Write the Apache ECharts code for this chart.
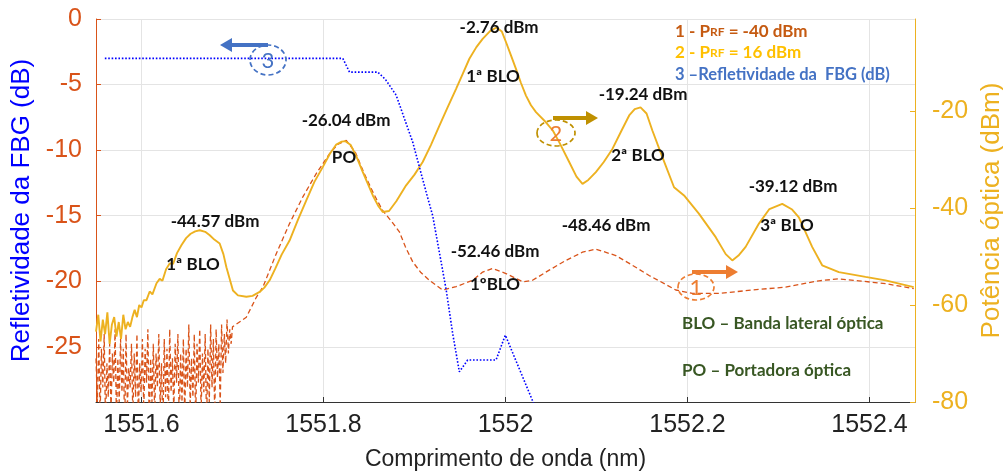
<!DOCTYPE html>
<html>
<head>
<meta charset="utf-8">
<script src="https://cdn.jsdelivr.net/npm/echarts@6/dist/echarts.min.js"></script>
<style>
  html, body { margin: 0; padding: 0; background: #fff; }
  #chart { width: 1003px; height: 472px; }
</style>
</head>
<body>
<div id="chart"></div>
<script>
// Wavelength ticks (nm)
const xTicks = [1551.6, 1551.8, 1552.0, 1552.2, 1552.4];
const leftTicks = [0, -5, -10, -15, -20, -25];
const rightTicks = [-80, -60, -40, -20];

// FBG reflectivity (dB), left axis
const fbgReflectivity = [
  [1551.5597, -3.0], [1551.8212, -3.0], [1551.8286, -4.05], [1551.8596, -4.05],
  [1551.8680, -4.6], [1551.8798, -5.8], [1551.8981, -9.4], [1551.9128, -13.2],
  [1551.9200, -15.0], [1551.9347, -20.6], [1551.9420, -24.0], [1551.9493, -26.9],
  [1551.9584, -26.0], [1551.9896, -26.0], [1551.9998, -24.1], [1552.0297, -29.1],
  [1552.0400, -31.0]
];

// P_RF = -40 dBm : noise floor at short wavelengths (dBm)
const lowRfNoise = [
  [1551.5500, -71], [1551.5515, -80], [1551.5530, -67], [1551.5545, -83], [1551.5560, -69],
  [1551.5575, -77], [1551.5590, -66], [1551.5605, -85], [1551.5620, -72], [1551.5635, -79],
  [1551.5650, -68], [1551.5665, -82], [1551.5680, -70], [1551.5695, -76], [1551.5710, -65],
  [1551.5725, -84], [1551.5740, -71], [1551.5755, -80], [1551.5770, -67], [1551.5785, -78],
  [1551.5800, -69], [1551.5815, -86], [1551.5830, -66], [1551.5845, -81], [1551.5860, -73],
  [1551.5875, -77], [1551.5890, -68], [1551.5905, -83], [1551.5920, -70], [1551.5935, -79],
  [1551.5950, -66], [1551.5965, -84], [1551.5980, -72], [1551.5995, -78], [1551.6010, -67],
  [1551.6025, -82], [1551.6040, -69], [1551.6055, -76], [1551.6070, -65], [1551.6085, -85],
  [1551.6100, -71], [1551.6115, -80], [1551.6130, -68], [1551.6145, -83], [1551.6160, -70],
  [1551.6175, -77], [1551.6190, -66], [1551.6205, -81], [1551.6220, -72], [1551.6235, -86],
  [1551.6250, -67], [1551.6265, -79], [1551.6280, -69], [1551.6295, -84], [1551.6310, -65],
  [1551.6325, -78], [1551.6340, -71], [1551.6355, -82], [1551.6370, -68], [1551.6385, -76],
  [1551.6400, -66], [1551.6415, -85], [1551.6430, -70], [1551.6445, -80], [1551.6460, -67],
  [1551.6475, -83], [1551.6490, -69], [1551.6505, -77], [1551.6520, -64], [1551.6535, -81],
  [1551.6550, -71], [1551.6565, -79], [1551.6580, -66], [1551.6595, -84], [1551.6610, -68],
  [1551.6625, -76], [1551.6640, -65], [1551.6655, -82], [1551.6670, -70], [1551.6685, -78],
  [1551.6700, -66], [1551.6715, -85], [1551.6730, -69], [1551.6745, -80], [1551.6760, -64],
  [1551.6775, -77], [1551.6790, -67], [1551.6805, -83], [1551.6820, -65], [1551.6835, -75],
  [1551.6850, -68], [1551.6865, -81], [1551.6880, -64], [1551.6895, -74], [1551.6910, -66],
  [1551.6925, -72], [1551.6940, -63], [1551.6955, -70], [1551.6970, -65], [1551.6985, -68],
  [1551.7000, -64.5]
];

// P_RF = -40 dBm : carrier and sidebands (dBm)
const lowRfSpectrum = [
  [1551.7152, -62.5], [1551.7262, -58.4], [1551.7334, -56.3], [1551.7481, -49.4],
  [1551.7627, -43.2], [1551.7773, -37.7], [1551.7920, -32.9], [1551.8066, -28.8],
  [1551.8160, -26.8], [1551.8250, -26.04], [1551.8350, -28.5], [1551.8450, -33.0],
  [1551.8550, -37.0], [1551.8650, -40.5], [1551.8750, -42.8], [1551.8834, -44.9],
  [1551.8900, -48.0], [1551.8981, -51.1], [1551.9070, -53.3], [1551.9164, -54.9],
  [1551.9310, -56.9], [1551.9457, -56.2], [1551.9639, -54.9], [1551.9749, -53.2],
  [1551.9858, -52.46], [1552.0005, -53.5], [1552.0188, -55.2], [1552.0297, -54.9],
  [1552.0480, -52.8], [1552.0664, -50.8], [1552.0846, -49.1], [1552.0993, -48.46],
  [1552.1213, -49.8], [1552.1395, -51.8], [1552.1578, -53.9], [1552.1688, -55.0],
  [1552.1871, -56.9], [1552.2053, -57.6], [1552.2346, -57.6], [1552.2712, -56.9],
  [1552.3078, -56.3], [1552.3444, -55.0], [1552.3663, -54.6], [1552.3883, -55.0],
  [1552.4176, -55.6], [1552.4486, -56.6]
];

// P_RF = 16 dBm : noise floor at short wavelengths (dBm)
const highRfNoise = [
  [1551.5500, -65.5], [1551.5525, -62.0], [1551.5550, -67.5], [1551.5575, -63.0],
  [1551.5600, -66.0], [1551.5625, -61.5], [1551.5650, -68.0], [1551.5675, -64.0],
  [1551.5700, -62.5], [1551.5725, -66.5], [1551.5750, -63.5], [1551.5775, -67.0],
  [1551.5800, -62.0], [1551.5825, -65.0], [1551.5850, -63.5], [1551.5875, -64.5],
  [1551.5900, -62.5], [1551.5925, -61.0], [1551.5950, -62.5], [1551.5975, -60.0],
  [1551.6000, -60.5], [1551.6025, -59.0]
];

// P_RF = 16 dBm : carrier and sidebands (dBm)
const highRfSpectrum = [
  [1551.6055, -59.0], [1551.6090, -57.2], [1551.6120, -57.8], [1551.6165, -55.5],
  [1551.6200, -54.6], [1551.6230, -55.0], [1551.6270, -52.6], [1551.6311, -51.4],
  [1551.6347, -51.5], [1551.6390, -49.3], [1551.6440, -47.6], [1551.6490, -46.2],
  [1551.6540, -45.3], [1551.6590, -44.8], [1551.6640, -44.57], [1551.6700, -44.9],
  [1551.6750, -45.6], [1551.6800, -46.5], [1551.6859, -47.3], [1551.6900, -49.5],
  [1551.6933, -52.2], [1551.7005, -57.0], [1551.7060, -58.0], [1551.7152, -58.3],
  [1551.7220, -58.1], [1551.7298, -57.3], [1551.7350, -56.4], [1551.7408, -54.9],
  [1551.7470, -52.5], [1551.7540, -49.6], [1551.7627, -46.7], [1551.7720, -42.4],
  [1551.7811, -38.4], [1551.7900, -34.6], [1551.7993, -31.5], [1551.8070, -28.8],
  [1551.8140, -26.9], [1551.8200, -26.3], [1551.8240, -26.2], [1551.8300, -27.0],
  [1551.8360, -29.3], [1551.8432, -32.6], [1551.8542, -37.4], [1551.8600, -39.5],
  [1551.8651, -40.8], [1551.8720, -40.6], [1551.8800, -38.6], [1551.8908, -35.3],
  [1551.9000, -33.1], [1551.9090, -30.5], [1551.9180, -27.0], [1551.9274, -23.0],
  [1551.9360, -19.4], [1551.9457, -15.4], [1551.9530, -12.3], [1551.9603, -9.2],
  [1551.9680, -6.8], [1551.9749, -5.1], [1551.9830, -3.5], [1551.9900, -2.76],
  [1551.9960, -3.6], [1552.0006, -5.8], [1552.0060, -8.5], [1552.0115, -11.3],
  [1552.0170, -14.2], [1552.0225, -16.8], [1552.0280, -18.8], [1552.0335, -20.2],
  [1552.0444, -22.3], [1552.0520, -24.0], [1552.0590, -26.4], [1552.0700, -30.5],
  [1552.0780, -33.5], [1552.0846, -35.0], [1552.0910, -34.2], [1552.0993, -32.6],
  [1552.1080, -30.5], [1552.1175, -27.8], [1552.1270, -24.2], [1552.1359, -20.9],
  [1552.1420, -19.6], [1552.1484, -19.24], [1552.1550, -20.5], [1552.1614, -24.0],
  [1552.1724, -29.5], [1552.1852, -35.7], [1552.1962, -37.4], [1552.2127, -41.2],
  [1552.2310, -46.0], [1552.2420, -49.5], [1552.2492, -50.8], [1552.2560, -49.8],
  [1552.2639, -48.0], [1552.2785, -43.2], [1552.2900, -40.2], [1552.3041, -39.12],
  [1552.3150, -40.3], [1552.3224, -41.9], [1552.3370, -48.0], [1552.3480, -51.8],
  [1552.3663, -53.2], [1552.3956, -54.2], [1552.4176, -54.9], [1552.4486, -56.3]
];

// Peak readouts and band labels
const peakNotes = [
  { text: '-2.76 dBm', x: 499, y: 28 },
  { text: '1ª BLO', x: 493, y: 77 },
  { text: '-26.04 dBm', x: 346, y: 121 },
  { text: 'PO', x: 344, y: 158 },
  { text: '-19.24 dBm', x: 643, y: 95 },
  { text: '2ª BLO', x: 638, y: 156 },
  { text: '-39.12 dBm', x: 793, y: 187 },
  { text: '3ª BLO', x: 787, y: 226 },
  { text: '-44.57 dBm', x: 215, y: 222 },
  { text: '1ª BLO', x: 193, y: 265 },
  { text: '-52.46 dBm', x: 495, y: 252 },
  { text: '1ºBLO', x: 495, y: 285 },
  { text: '-48.46 dBm', x: 606, y: 226 }
];

const C_LOW = '#D95319';
const C_HIGH = '#EDB120';
const C_FBG = '#0000FF';
const ANN_FONT = 'Lato, "Open Sans", sans-serif';
const AXIS_FONT = '"Liberation Sans", Arial, sans-serif';

const chart = echarts.init(document.getElementById('chart'));

const graphics = [];
peakNotes.forEach(n => graphics.push({
  type: 'text', x: n.x, y: n.y, z: 100,
  style: { text: n.text, fill: '#111', font: 'bold 17px ' + ANN_FONT, align: 'center', verticalAlign: 'middle' }
}));

// Glossary
[['BLO – Banda lateral óptica', 324], ['PO – Portadora óptica', 371]].forEach(([t, y]) => graphics.push({
  type: 'text', x: 682, y: y, z: 100,
  style: { text: t, fill: '#385723', font: 'bold 17px ' + ANN_FONT, align: 'left', verticalAlign: 'middle' }
}));

// Trace key
graphics.push({
  type: 'text', x: 675, y: 32, z: 100,
  style: {
    text: '{a|1 - P}{s|RF}{a| = -40 dBm}', align: 'left', verticalAlign: 'middle',
    rich: { a: { fill: '#C55A11', font: 'bold 17px ' + ANN_FONT }, s: { fill: '#C55A11', font: 'bold 12px ' + ANN_FONT } }
  }
});
graphics.push({
  type: 'text', x: 675, y: 53, z: 100,
  style: {
    text: '{a|2 - P}{s|RF}{a| = 16 dBm}', align: 'left', verticalAlign: 'middle',
    rich: { a: { fill: '#FFC000', font: 'bold 17px ' + ANN_FONT }, s: { fill: '#FFC000', font: 'bold 12px ' + ANN_FONT } }
  }
});
graphics.push({
  type: 'text', x: 675, y: 75, z: 100,
  style: { text: '3 –Refletividade da  FBG (dB)', fill: '#4472C4', font: 'bold 16.5px ' + ANN_FONT, align: 'left', verticalAlign: 'middle' }
});

// Circled trace numbers with arrows toward their axes
function marker(num, cx, cy, rx, ry, ringColor, numColor, ax1, ax2, ay, arrowColor) {
  graphics.push({
    type: 'ellipse', z: 90, shape: { cx: cx, cy: cy, rx: rx, ry: ry },
    style: { fill: 'none', stroke: ringColor, lineWidth: 1.7, lineDash: [5, 3] }
  });
  graphics.push({
    type: 'text', x: cx, y: cy + 1, z: 91,
    style: { text: num, fill: numColor, font: '22px ' + ANN_FONT, align: 'center', verticalAlign: 'middle' }
  });
  const dir = ax2 > ax1 ? 1 : -1;
  graphics.push({
    type: 'line', z: 92, shape: { x1: ax1, y1: ay, x2: ax2 - dir * 9, y2: ay },
    style: { stroke: arrowColor, lineWidth: 3.8 }
  });
  graphics.push({
    type: 'polygon', z: 92,
    shape: { points: [[ax2, ay], [ax2 - dir * 12, ay - 7], [ax2 - dir * 12, ay + 7]] },
    style: { fill: arrowColor }
  });
}
marker('3', 268, 60, 18, 15, '#4472C4', '#4472C4', 268, 220, 45, '#4472C4');
marker('2', 556, 133, 19, 13, '#BF9000', '#ED7D31', 553, 598, 118, '#BF9000');
marker('1', 696, 287, 18, 13, '#ED7D31', '#ED7D31', 692, 738, 272, '#ED7D31');

const gridLine = { show: true, lineStyle: { color: '#E4E4E4', width: 1 } };

chart.setOption({
  animation: false,
  backgroundColor: '#fff',
  grid: { left: 96, right: 88, top: 19, bottom: 70, containLabel: false, outerBoundsMode: 'none' },
  xAxis: {
    type: 'value', min: 1551.55, max: 1552.45,
    name: 'Comprimento de onda (nm)', nameLocation: 'middle', nameGap: 46,
    nameTextStyle: { color: '#222', fontFamily: AXIS_FONT, fontSize: 23 },
    axisLine: { show: true, onZero: false, lineStyle: { color: '#333', width: 1 } },
    axisTick: { show: true, inside: true, length: 5, customValues: xTicks, lineStyle: { color: '#333' } },
    axisLabel: {
      customValues: xTicks, color: '#222', fontFamily: AXIS_FONT, fontSize: 25, margin: 11,
      formatter: v => String(Number(v.toFixed(1)))
    },
    splitLine: gridLine
  },
  yAxis: [
    {
      type: 'value', position: 'left', min: -29.2, max: 0,
      name: 'Refletividade da FBG (dB)', nameLocation: 'middle', nameGap: 50, nameRotate: 90,
      nameTextStyle: { color: '#0000FF', fontFamily: AXIS_FONT, fontSize: 26 },
      axisLine: { show: true, onZero: false, lineStyle: { color: C_LOW, width: 1 } },
      axisTick: { show: true, inside: true, length: 5, customValues: leftTicks, lineStyle: { color: C_LOW } },
      axisLabel: { customValues: leftTicks, color: C_LOW, fontFamily: AXIS_FONT, fontSize: 25, margin: 14 },
      splitLine: gridLine
    },
    {
      type: 'value', position: 'right', min: -80, max: -1,
      name: 'Potência óptica (dBm)', nameLocation: 'middle', nameGap: 54, nameRotate: 90,
      nameTextStyle: { color: C_HIGH, fontFamily: AXIS_FONT, fontSize: 26 },
      axisLine: { show: true, onZero: false, lineStyle: { color: C_HIGH, width: 1 } },
      axisTick: { show: true, inside: true, length: 5, customValues: rightTicks, lineStyle: { color: C_HIGH } },
      axisLabel: { customValues: rightTicks, color: C_HIGH, fontFamily: AXIS_FONT, fontSize: 25, margin: 17 },
      splitLine: { show: false }
    }
  ],
  series: [
    {
      name: 'PRF = -40 dBm', type: 'line', yAxisIndex: 1, showSymbol: false, clip: true, z: 3,
      data: lowRfNoise.concat(lowRfSpectrum),
      lineStyle: { color: C_LOW, width: 1.3, type: [5, 3] }
    },
    {
      name: 'PRF = 16 dBm', type: 'line', yAxisIndex: 1, showSymbol: false, clip: true, z: 4,
      data: highRfNoise.concat(highRfSpectrum),
      lineStyle: { color: C_HIGH, width: 1.9 }
    },
    {
      name: 'Refletividade da FBG', type: 'line', yAxisIndex: 0, showSymbol: false, clip: true, z: 5,
      data: fbgReflectivity,
      lineStyle: { color: C_FBG, width: 1.6, type: [1.6, 1.8] }
    }
  ],
  graphic: graphics
});
</script>
</body>
</html>
